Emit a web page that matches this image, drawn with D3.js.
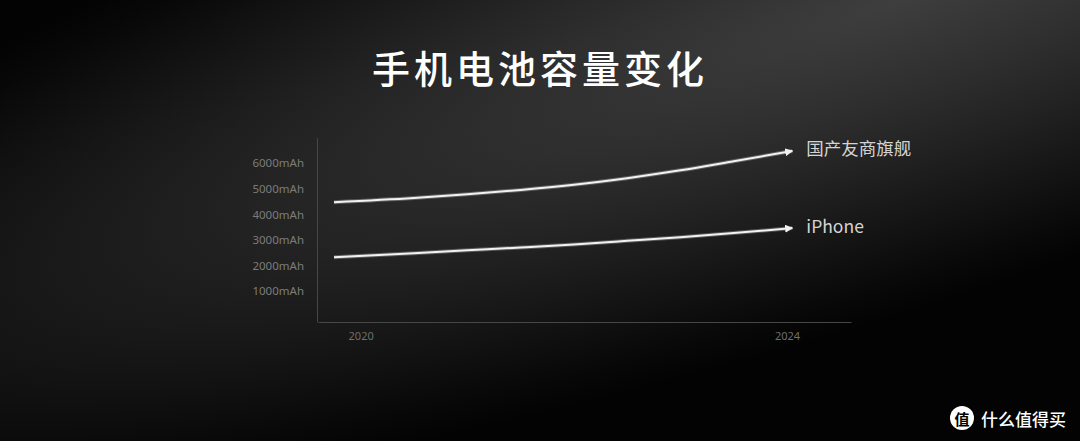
<!DOCTYPE html>
<html>
<head>
<meta charset="utf-8">
<script src="https://cdn.jsdelivr.net/npm/d3@7"></script>
<style>
html,body{margin:0;padding:0;background:#000;overflow:hidden;}
svg{display:block;}
</style>
</head>
<body>
<div id="chart"></div>
<script>
// ---- data ----
const title = "手机电池容量变化";
const seriesNames = ["国产友商旗舰", "iPhone"];
const sampleYears = [2019.75, 2020.5, 2021, 2021.5, 2022, 2022.5, 2023, 2023.5, 2024.05];
const domesticValues = [4480, 4640, 4790, 4960, 5165, 5420, 5725, 6080, 6480];
const iphoneValues = [2330, 2490, 2600, 2710, 2830, 2970, 3115, 3275, 3470];
const yTickValues = [1000, 2000, 3000, 4000, 5000, 6000];
const xTickValues = [2020, 2024];
const watermarkText = "什么值得买";

const W = 1080, H = 441;
const svg = d3.select("#chart").append("svg").attr("width", W).attr("height", H);
const defs = svg.append("defs");

// background
const rg = defs.append("radialGradient").attr("id", "bg")
  .attr("gradientUnits", "userSpaceOnUse")
  .attr("cx", 0).attr("cy", 0).attr("r", 1)
  .attr("gradientTransform", "translate(900,0) rotate(162) scale(1400,300)");
[[0, "#3e3e3e"], [0.3, "#2e2e2e"], [0.5, "#222222"], [0.7, "#151515"], [0.9, "#080808"], [1, "#030303"]]
  .forEach(([o, c]) => rg.append("stop").attr("offset", o).attr("stop-color", c));
svg.append("rect").attr("width", W).attr("height", H).attr("fill", "#030303");
svg.append("rect").attr("width", W).attr("height", H).attr("fill", "url(#bg)");

// arrow marker
defs.append("marker").attr("id", "arrow")
  .attr("viewBox", "0 0 10 10").attr("refX", 9).attr("refY", 5)
  .attr("markerWidth", 4).attr("markerHeight", 4).attr("orient", "auto")
  .attr("markerUnits", "strokeWidth")
  .append("path").attr("d", "M0,0 L10,5 L0,10 Z").attr("fill", "#f2f2f2");

// title
svg.append("text").attr("x", 540).attr("y", 66)
  .attr("text-anchor", "middle").attr("dominant-baseline", "central")
  .attr("font-family", "'Noto Sans CJK SC', sans-serif").attr("font-weight", 500)
  .attr("font-size", 38).attr("letter-spacing", 4).attr("fill", "#ffffff")
  .text(title);

// scales
const x = d3.scaleLinear().domain([2019.6, 2024.6]).range([318, 851]);
const y = d3.scaleLinear().domain([-200, 7000]).range([322, 137.7]);

// axes
const yAxis = svg.append("g").attr("transform", "translate(317,0)")
  .call(d3.axisLeft(y).tickValues(yTickValues).tickSize(0).tickSizeOuter(0).tickPadding(13)
    .tickFormat(d => d + "mAh"));
const xAxis = svg.append("g").attr("transform", "translate(0,322)")
  .call(d3.axisBottom(x).tickValues(xTickValues).tickSize(0).tickSizeOuter(0).tickPadding(10)
    .tickFormat(d3.format("d")));
[yAxis, xAxis].forEach(g => {
  g.select(".domain").attr("stroke", "#474747").attr("stroke-width", 1);
  g.selectAll("text").attr("fill", "#7c7c7c").attr("font-size", 11.5)
    .attr("font-family", "'Noto Sans', sans-serif");
});
xAxis.selectAll("text").attr("fill", "#6e6e6e").attr("font-size", 11);

// lines
const line = d3.line().x(d => x(d[0])).y(d => y(d[1])).curve(d3.curveMonotoneX);
const series = [
  { name: seriesNames[0], values: domesticValues, dy: -4 },
  { name: seriesNames[1], values: iphoneValues, dy: -3 }
];
series.forEach(s => {
  const pts = sampleYears.map((yr, i) => [yr, s.values[i]]);
  svg.append("path").datum(pts).attr("d", line)
    .attr("fill", "none").attr("stroke", "#ffffff").attr("stroke-opacity", 0.25)
    .attr("stroke-width", 4);
  svg.append("path").datum(pts).attr("d", line)
    .attr("fill", "none").attr("stroke", "#f2f2f2").attr("stroke-width", 2)
    .attr("marker-end", "url(#arrow)");
  const last = pts[pts.length - 1];
  svg.append("text").attr("x", x(last[0]) + 14).attr("y", y(last[1]) + s.dy)
    .attr("dominant-baseline", "central")
    .attr("font-family", "'Noto Sans CJK SC', sans-serif")
    .attr("font-size", 17.5).attr("fill", "#d4d4d4")
    .text(s.name);
});

// watermark
const wm = svg.append("g");
wm.append("circle").attr("cx", 962).attr("cy", 418).attr("r", 12).attr("fill", "#ffffff");
wm.append("text").attr("x", 962).attr("y", 418).attr("text-anchor", "middle")
  .attr("dominant-baseline", "central").attr("font-family", "'Noto Sans CJK SC', sans-serif")
  .attr("font-weight", 700).attr("font-size", 15).attr("fill", "#000").text("值");
wm.append("text").attr("x", 981).attr("y", 418).attr("dominant-baseline", "central")
  .attr("font-family", "'Noto Sans CJK SC', sans-serif").attr("font-weight", 500)
  .attr("font-size", 17).attr("fill", "#ffffff").text(watermarkText);
</script>
</body>
</html>
